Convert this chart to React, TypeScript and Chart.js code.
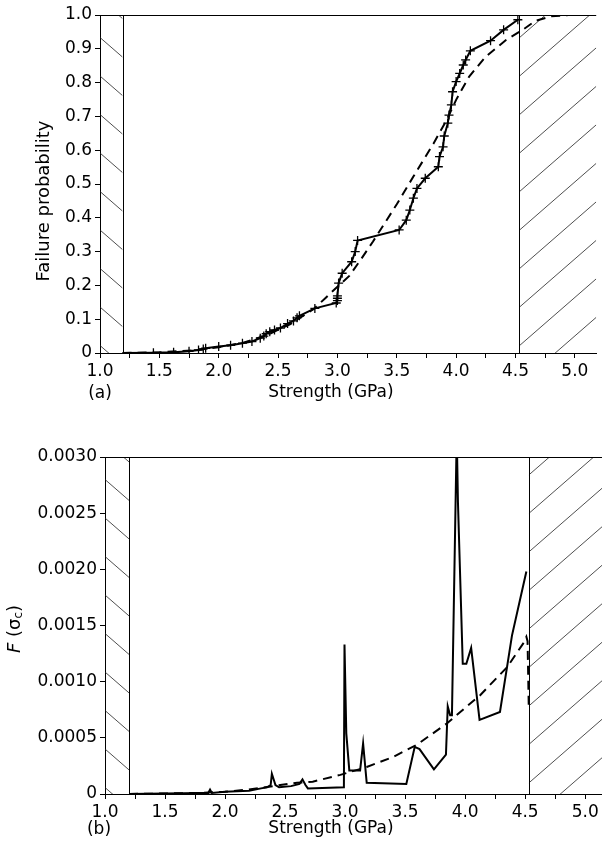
import React, { useEffect, useRef } from 'react';
import { Chart, registerables } from 'chart.js';
Chart.register(...registerables);

// ---- Panel (a): failure probability ----
const strengthA = [1.19, 1.45, 1.62, 1.75, 1.83, 1.87, 1.89, 2.0, 2.1, 2.2, 2.28, 2.35, 2.38, 2.4, 2.43, 2.47, 2.52, 2.58, 2.63, 2.66, 2.68, 2.81, 2.99, 3.0, 3.0, 3.0, 3.01, 3.04, 3.12, 3.15, 3.17, 3.52, 3.58, 3.61, 3.64, 3.67, 3.74, 3.85, 3.86, 3.89, 3.9, 3.93, 3.94, 3.96, 3.97, 4.0, 4.03, 4.06, 4.08, 4.12, 4.29, 4.4, 4.52];
const probA = [0, 0.001, 0.002, 0.005, 0.009, 0.012, 0.014, 0.019, 0.023, 0.029, 0.034, 0.044, 0.05, 0.057, 0.063, 0.068, 0.074, 0.087, 0.095, 0.104, 0.11, 0.132, 0.148, 0.155, 0.162, 0.169, 0.207, 0.236, 0.27, 0.3, 0.333, 0.364, 0.393, 0.423, 0.458, 0.487, 0.517, 0.551, 0.581, 0.61, 0.642, 0.68, 0.704, 0.734, 0.773, 0.803, 0.827, 0.852, 0.867, 0.894, 0.924, 0.956, 0.986];
const fitStrengthA = [1.19, 1.5, 1.8, 2.0, 2.2, 2.4, 2.6, 2.8, 2.9, 3.0, 3.1, 3.2, 3.3, 3.4, 3.5, 3.64, 3.81, 3.92, 4.0, 4.11, 4.25, 4.42, 4.56, 4.67, 4.8, 4.95, 5.18];
const fitProbA = [0, 0.002, 0.008, 0.017, 0.03, 0.052, 0.085, 0.13, 0.163, 0.196, 0.228, 0.278, 0.33, 0.385, 0.44, 0.522, 0.62, 0.689, 0.749, 0.818, 0.877, 0.926, 0.956, 0.983, 0.996, 1.0, 1.0];

// ---- Panel (b): F(sigma_c) ----
const strengthB = [1.2, 1.5, 1.8, 1.86, 1.875, 1.89, 2.0, 2.2, 2.3, 2.35, 2.38, 2.39, 2.42, 2.45, 2.55, 2.62, 2.645, 2.67, 2.69, 2.99, 2.995, 3.01, 3.035, 3.125, 3.15, 3.18, 3.51, 3.58, 3.62, 3.74, 3.84, 3.855, 3.875, 3.89, 3.93, 3.94, 3.98, 4.01, 4.05, 4.12, 4.29, 4.39, 4.51];
const densityB = [0, 0.000005, 0.00001, 0.00001, 0.00004, 0.00001, 0.00002, 0.00003, 0.00005, 0.00006, 0.00008, 0.00018, 0.00008, 0.00006, 0.00007, 0.00009, 0.00013, 0.00008, 0.00005, 0.00006, 0.00133, 0.00054, 0.00021, 0.00021, 0.00045, 0.0001, 0.00009, 0.00042, 0.0004, 0.00022, 0.00035, 0.00078, 0.0007, 0.0007, 0.0032, 0.0026, 0.00116, 0.00116, 0.0013, 0.00066, 0.00073, 0.00141, 0.00198];
const fitStrengthB = [1.2, 1.5, 1.8, 2.0, 2.2, 2.4, 2.6, 2.73, 2.96, 3.18, 3.4, 3.6, 3.85, 4.125, 4.35, 4.49, 4.51, 4.52, 4.53];
const fitDensityB = [0, 0.000005, 0.00001, 0.00002, 0.00004, 0.00007, 0.0001, 0.00011, 0.00017, 0.00024, 0.00033, 0.00044, 0.00063, 0.00088, 0.00113, 0.00135, 0.0014, 0.00136, 0.00077];

const FONT = 'DejaVu Sans';
const TICK_SIZE = 17;

function pts(xs: number[], ys: number[]) {
  return xs.map((x, i) => ({ x, y: ys[i] }));
}

function hatch(ctx: CanvasRenderingContext2D, x0: number, x1: number, top: number, bottom: number, dir: number, phase: number) {
  const s = 38.5;
  const slope = 0.87;
  ctx.save();
  ctx.beginPath();
  ctx.rect(x0, top, x1 - x0, bottom - top);
  ctx.clip();
  ctx.strokeStyle = '#222';
  ctx.lineWidth = 0.8;
  const w = x1 - x0;
  for (let k = -30; k < 30; k++) {
    const y = top + phase + k * s;
    ctx.beginPath();
    ctx.moveTo(x0, y);
    ctx.lineTo(x1, y + dir * slope * w);
    ctx.stroke();
  }
  ctx.restore();
}

function makeRegionPlugin(leftEdge: number, rightEdge: number, phaseL: number, phaseR: number) {
  return {
    id: 'regions',
    beforeDatasetsDraw(chart: any) {
      const { ctx, chartArea, scales } = chart;
      const xs = scales.x;
      const xl0 = xs.getPixelForValue(xs.min);
      const xl1 = xs.getPixelForValue(leftEdge);
      const xr0 = xs.getPixelForValue(rightEdge);
      const xr1 = chartArea.right;
      hatch(ctx, xl0, xl1, chartArea.top, chartArea.bottom, 1, phaseL);
      hatch(ctx, xr0, xr1, chartArea.top, chartArea.bottom, -1, phaseR);
      ctx.save();
      ctx.strokeStyle = '#000';
      ctx.lineWidth = 1;
      ctx.beginPath();
      ctx.moveTo(Math.round(xl1) + 0.5, chartArea.top);
      ctx.lineTo(Math.round(xl1) + 0.5, chartArea.bottom);
      ctx.moveTo(Math.round(xr0) + 0.5, chartArea.top);
      ctx.lineTo(Math.round(xr0) + 0.5, chartArea.bottom);
      ctx.moveTo(chartArea.left, Math.round(chartArea.top) + 0.5);
      ctx.lineTo(chartArea.right, Math.round(chartArea.top) + 0.5);
      ctx.stroke();
      ctx.restore();
    },
  };
}

function makeTextPlugin(draw: (ctx: CanvasRenderingContext2D) => void) {
  return {
    id: 'texts',
    afterDraw(chart: any) {
      const ctx = chart.ctx as CanvasRenderingContext2D;
      ctx.save();
      ctx.fillStyle = '#000';
      draw(ctx);
      ctx.restore();
    },
  };
}

function baseOptions(xMax: number, yMax: number, yStep: number, yDigits: number, leftW: number, bottomH: number, topPad: number) {
  return {
    animation: false,
    responsive: false,
    maintainAspectRatio: false,
    layout: { padding: { top: topPad, left: 0, right: 0, bottom: 0 } },
    plugins: { legend: { display: false }, tooltip: { enabled: false } },
    scales: {
      x: {
        type: 'linear',
        min: 1.0,
        max: xMax,
        afterFit: (s: any) => { s.height = bottomH; },
        ticks: {
          stepSize: 0.25,
          includeBounds: false,
          autoSkip: false,
          maxRotation: 0,
          padding: 3,
          color: '#000',
          font: { family: FONT, size: TICK_SIZE },
          callback: (v: number) => (Math.abs(v * 2 - Math.round(v * 2)) < 1e-6 ? v.toFixed(1) : ''),
        },
        grid: { drawOnChartArea: false, drawTicks: true, tickLength: 5, color: '#000' },
        border: { display: true, color: '#000', width: 1 },
      },
      y: {
        type: 'linear',
        min: 0,
        max: yMax,
        afterFit: (s: any) => { s.width = leftW; },
        ticks: {
          stepSize: yStep,
          autoSkip: false,
          padding: 3,
          color: '#000',
          font: { family: FONT, size: TICK_SIZE },
          callback: (v: number) => (Math.abs(v) < 1e-12 ? '0' : v.toFixed(yDigits)),
        },
        grid: { drawOnChartArea: false, drawTicks: true, tickLength: 5, color: '#000' },
        border: { display: true, color: '#000', width: 1 },
      },
    },
  };
}

function PanelA() {
  const ref = useRef<HTMLCanvasElement>(null);
  useEffect(() => {
    const chart = new Chart(ref.current!, {
      type: 'scatter',
      data: {
        datasets: [
          {
            data: pts(fitStrengthA, fitProbA),
            showLine: true,
            borderColor: '#000',
            borderWidth: 2,
            borderDash: [9, 6],
            pointRadius: 0,
            fill: false,
          },
          {
            data: pts(strengthA, probA),
            showLine: true,
            borderColor: '#000',
            borderWidth: 2,
            pointStyle: 'cross',
            pointRadius: (c: any) => (c.dataIndex === 0 ? 0 : 4.5),
            pointBorderWidth: 1.3,
            pointBorderColor: '#000',
            fill: false,
          },
        ],
      },
      options: baseOptions(5.18, 1.0, 0.1, 1, 100, 57, 15) as any,
      plugins: [
        makeRegionPlugin(1.19, 4.53, -16, 23) as any,
        makeTextPlugin((ctx) => {
          ctx.font = `17px ${FONT}`;
          ctx.textAlign = 'center';
          ctx.textBaseline = 'middle';
          ctx.fillText('(a)', 100, 394);
          ctx.fillText('Strength (GPa)', 331, 393);
          ctx.save();
          ctx.font = `18px ${FONT}`;
          ctx.translate(44, 201);
          ctx.rotate(-Math.PI / 2);
          ctx.fillText('Failure probability', 0, 0);
          ctx.restore();
        }) as any,
      ],
    });
    return () => chart.destroy();
  }, []);
  return <canvas ref={ref} width={602} height={410} style={{ position: 'absolute', left: 0, top: 0, width: 602, height: 410 }} />;
}

function PanelB() {
  const ref = useRef<HTMLCanvasElement>(null);
  useEffect(() => {
    const chart = new Chart(ref.current!, {
      type: 'scatter',
      data: {
        datasets: [
          {
            data: pts(fitStrengthB, fitDensityB),
            showLine: true,
            borderColor: '#000',
            borderWidth: 2,
            borderDash: [9, 6],
            pointRadius: 0,
            fill: false,
          },
          {
            data: pts(strengthB, densityB),
            showLine: true,
            borderColor: '#000',
            borderWidth: 2,
            pointRadius: 0,
            fill: false,
          },
        ],
      },
      options: baseOptions(5.14, 0.003, 0.0005, 4, 105, 51, 37) as any,
      plugins: [
        makeRegionPlugin(1.2, 4.53, -16, 18) as any,
        makeTextPlugin((ctx) => {
          ctx.font = `17px ${FONT}`;
          ctx.textAlign = 'center';
          ctx.textBaseline = 'middle';
          ctx.fillText('(b)', 99, 410);
          ctx.fillText('Strength (GPa)', 331, 409);
          ctx.save();
          ctx.translate(15, 209);
          ctx.rotate(-Math.PI / 2);
          ctx.textAlign = 'left';
          const parts: [string, string, number][] = [
            ['F', `italic 18px ${FONT}`, 0],
            [' (σ', `18px ${FONT}`, 0],
            ['c', `12px ${FONT}`, 4],
            [')', `18px ${FONT}`, 0],
          ];
          let total = 0;
          for (const [t, f] of parts) { ctx.font = f; total += ctx.measureText(t).width; }
          let x = -total / 2;
          for (const [t, f, dy] of parts) {
            ctx.font = f;
            ctx.fillText(t, x, dy);
            x += ctx.measureText(t).width;
          }
          ctx.restore();
        }) as any,
      ],
    });
    return () => chart.destroy();
  }, []);
  return <canvas ref={ref} width={602} height={425} style={{ position: 'absolute', left: 0, top: 420, width: 602, height: 425 }} />;
}

export default function App() {
  return (
    <div style={{ position: 'absolute', left: 0, top: 0, width: 602, height: 845, background: '#fff', overflow: 'hidden' }}>
      <PanelA />
      <PanelB />
    </div>
  );
}
